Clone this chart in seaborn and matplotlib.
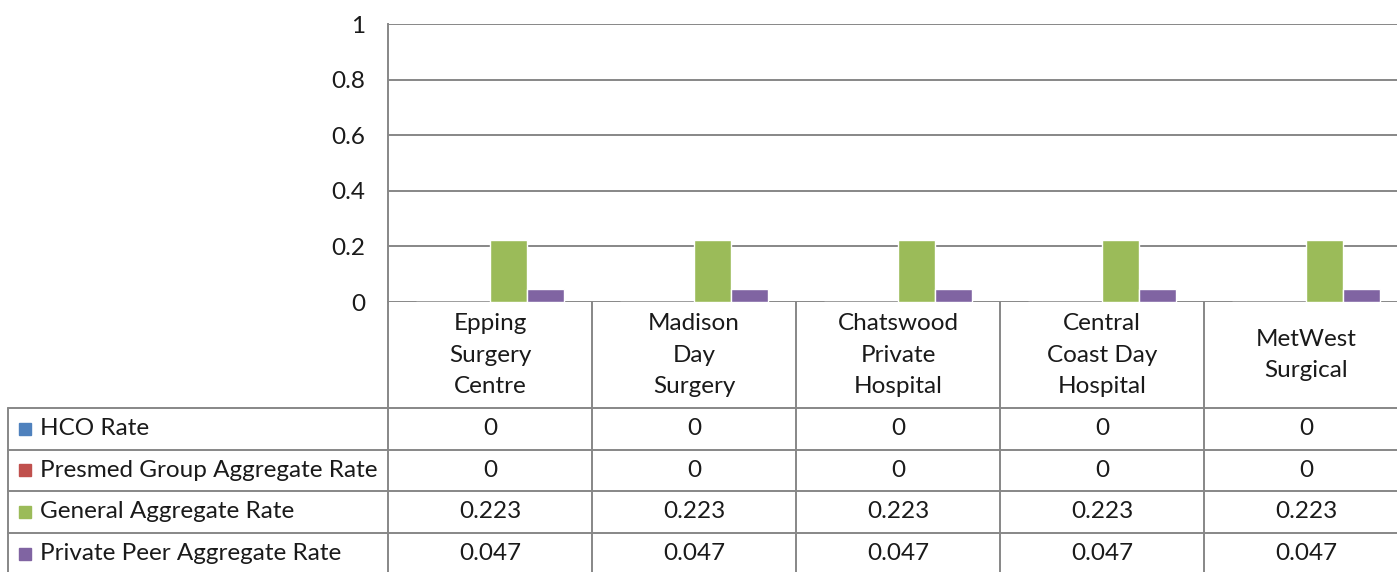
import matplotlib.pyplot as plt
import seaborn as sns
import pandas as pd

# data
hospitals = ["Epping\nSurgery\nCentre", "Madison\nDay\nSurgery", "Chatswood\nPrivate\nHospital",
             "Central\nCoast Day\nHospital", "MetWest\nSurgical"]
series = ["HCO Rate", "Presmed Group Aggregate Rate", "General Aggregate Rate", "Private Peer Aggregate Rate"]
hco_rate = [0, 0, 0, 0, 0]
presmed_rate = [0, 0, 0, 0, 0]
general_rate = [0.223, 0.223, 0.223, 0.223, 0.223]
peer_rate = [0.047, 0.047, 0.047, 0.047, 0.047]
y_ticks = [0, 0.2, 0.4, 0.6, 0.8, 1]
colors = ["#4F81BD", "#C0504D", "#9BBB59", "#8064A2"]

values = [hco_rate, presmed_rate, general_rate, peer_rate]
rows = []
for s, vals in zip(series, values):
    for h, v in zip(hospitals, vals):
        rows.append({"Hospital": h, "Series": s, "Rate": v})
df = pd.DataFrame(rows)

sns.set_theme(style="white")
plt.rcParams["font.family"] = ["Lato", "DejaVu Sans"]
FS = 17.5
GRID = "#878787"
TXT = "#1a1a1a"

W, H = 1397, 572
fig = plt.figure(figsize=(W / 100, H / 100), dpi=100)

# plot area (extends past right edge, as in the cropped reference)
ax = fig.add_axes([388 / W, 1 - 302 / H, 1020 / W, 278 / H])
sns.barplot(data=df, x="Hospital", y="Rate", hue="Series", palette=colors, width=0.725,
            saturation=1, legend=False, ax=ax, errorbar=None)
ax.set_xlim(-0.5, 4.5)
ax.set_ylim(0, 1)
ax.set_yticks(y_ticks)
ax.set_yticklabels([f"{t:g}" for t in y_ticks], fontsize=FS, color=TXT)
ax.set_xticks([])
ax.set_xlabel("")
ax.set_ylabel("")
ax.tick_params(axis="y", length=0, pad=16.5)
ax.set_axisbelow(True)
ax.yaxis.grid(True, color=GRID, lw=1.4)
for side in ["top", "right", "bottom"]:
    ax.spines[side].set_visible(False)
ax.spines["left"].set_color(GRID)
ax.spines["left"].set_linewidth(1.4)

# data table below the plot area
cat_px = 204
left_units = 380 / cat_px
tax = fig.add_axes([8 / W, 0, 1400 / W, 270 / H])
tax.set_xlim(-0.5 - left_units, 4.5)
tax.set_ylim(270, 0)
tax.axis("off")

header_h = 106
row_h = 41.6
x_left = -0.5 - left_units
line_kw = dict(color=GRID, lw=1.4, clip_on=False)

for i in range(len(hospitals) + 1):
    tax.plot([i - 0.5, i - 0.5], [0, 272], **line_kw)
tax.plot([x_left, x_left], [header_h, 272], **line_kw)
for r in range(len(series)):
    y = header_h + r * row_h
    tax.plot([x_left, 4.5], [y, y], **line_kw)

for i, h in enumerate(hospitals):
    tax.text(i, header_h / 2, h, ha="center", va="center", fontsize=FS,
             linespacing=1.62, color=TXT)

for r, (s, vals, c) in enumerate(zip(series, values, colors)):
    yc = header_h + (r + 0.5) * row_h
    tax.plot([x_left + 17 / cat_px], [yc], marker="s", ms=9, color=c, clip_on=False)
    tax.text(x_left + 32 / cat_px, yc, s, ha="left", va="center", fontsize=FS, color=TXT)
    for i, v in enumerate(vals):
        tax.text(i, yc, f"{v:g}", ha="center", va="center", fontsize=FS, color=TXT)

fig.savefig("out.png", dpi=100)
